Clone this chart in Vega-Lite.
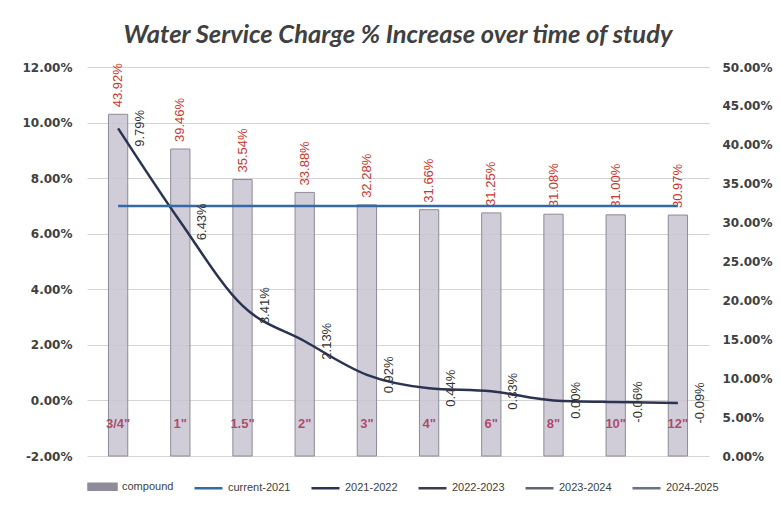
{
  "$schema": "https://vega.github.io/schema/vega-lite/v6.json",
  "width": 622,
  "height": 389,
  "autosize": {"type": "none"},
  "padding": {"left": 87, "top": 67, "right": 72, "bottom": 52},
  "background": "white",
  "title": {
    "text": "Water Service Charge % Increase over time of study",
    "font": "Lato",
    "fontSize": 25.5,
    "fontStyle": "italic",
    "fontWeight": "bold",
    "color": "#404040",
    "offset": 13,
    "anchor": "middle"
  },
  "datasets": {
    "bars": [
      {"cat": "3/4\"", "compound": 0.4392},
      {"cat": "1\"", "compound": 0.3946},
      {"cat": "1.5\"", "compound": 0.3554},
      {"cat": "2\"", "compound": 0.3388},
      {"cat": "3\"", "compound": 0.3228},
      {"cat": "4\"", "compound": 0.3166},
      {"cat": "6\"", "compound": 0.3125},
      {"cat": "8\"", "compound": 0.3108},
      {"cat": "10\"", "compound": 0.3100},
      {"cat": "12\"", "compound": 0.3097}
    ],
    "lines": [
      {"cat": "3/4\"", "series": "2021-2022", "value": 0.0979},
      {"cat": "1\"", "series": "2021-2022", "value": 0.0643},
      {"cat": "1.5\"", "series": "2021-2022", "value": 0.0341},
      {"cat": "2\"", "series": "2021-2022", "value": 0.0213},
      {"cat": "3\"", "series": "2021-2022", "value": 0.0092},
      {"cat": "4\"", "series": "2021-2022", "value": 0.0044},
      {"cat": "6\"", "series": "2021-2022", "value": 0.0033},
      {"cat": "8\"", "series": "2021-2022", "value": 0.0},
      {"cat": "10\"", "series": "2021-2022", "value": -0.0006},
      {"cat": "12\"", "series": "2021-2022", "value": -0.0009},
      {"cat": "3/4\"", "series": "current-2021", "value": 0.07},
      {"cat": "1\"", "series": "current-2021", "value": 0.07},
      {"cat": "1.5\"", "series": "current-2021", "value": 0.07},
      {"cat": "2\"", "series": "current-2021", "value": 0.07},
      {"cat": "3\"", "series": "current-2021", "value": 0.07},
      {"cat": "4\"", "series": "current-2021", "value": 0.07},
      {"cat": "6\"", "series": "current-2021", "value": 0.07},
      {"cat": "8\"", "series": "current-2021", "value": 0.07},
      {"cat": "10\"", "series": "current-2021", "value": 0.07},
      {"cat": "12\"", "series": "current-2021", "value": 0.07}
    ]
  },
  "encoding": {
    "x": {
      "field": "cat",
      "type": "nominal",
      "sort": null,
      "scale": {"paddingInner": 0.69, "paddingOuter": 0.345},
      "axis": {
        "title": null,
        "labelAngle": 0,
        "ticks": false,
        "domain": false,
        "labelPadding": -39,
        "labelColor": "#a83256",
        "labelFont": "Liberation Sans",
        "labelFontWeight": "bold",
        "labelFontSize": 13,
        "labelOpacity": 0.85,
        "zindex": 1
      }
    }
  },
  "layer": [
    {
      "data": {"name": "bars"},
      "encoding": {
        "y": {
          "field": "compound",
          "type": "quantitative",
          "scale": {"domain": [0, 0.5]},
          "axis": {
            "orient": "right",
            "title": null,
            "values": [0, 0.05, 0.1, 0.15, 0.2, 0.25, 0.3, 0.35, 0.4, 0.45, 0.5],
            "format": ".2%",
            "grid": false,
            "ticks": false,
            "domain": false,
            "labelPadding": 13,
            "labelFont": "DejaVu Sans",
            "labelFontWeight": "bold",
            "labelFontSize": 12,
            "labelColor": "#404040"
          }
        }
      },
      "layer": [
        {"mark": {"type": "bar", "fill": "#c8c4d2", "fillOpacity": 0.85, "stroke": "#8d8b98", "strokeWidth": 1}},
        {
          "mark": {"type": "text", "angle": 270, "align": "left", "baseline": "middle", "dx": 7, "font": "Liberation Sans", "fontSize": 13, "color": "#c8372d"},
          "encoding": {"text": {"field": "compound", "type": "quantitative", "format": ".2%"}}
        }
      ]
    },
    {
      "data": {"name": "lines"},
      "encoding": {
        "y": {
          "field": "value",
          "type": "quantitative",
          "scale": {"domain": [-0.02, 0.12]},
          "axis": {
            "orient": "left",
            "title": null,
            "values": [-0.02, 0, 0.02, 0.04, 0.06, 0.08, 0.1, 0.12],
            "format": ".2%",
            "grid": true,
            "gridColor": "#d4d4d4",
            "ticks": false,
            "domain": false,
            "labelPadding": 15,
            "labelFont": "DejaVu Sans",
            "labelFontWeight": "bold",
            "labelFontSize": 12,
            "labelColor": "#404040"
          }
        }
      },
      "layer": [
        {
          "mark": {"type": "line", "interpolate": "monotone", "strokeWidth": 2.5},
          "encoding": {
            "color": {
              "field": "series",
              "type": "nominal",
              "scale": {
                "domain": ["compound", "current-2021", "2021-2022", "2022-2023", "2023-2024", "2024-2025"],
                "range": ["#8f8b99", "#3468a6", "#2a3452", "#3d3d4a", "#5e6470", "#6a7184"]
              },
              "legend": {
                "title": null,
                "orient": "bottom",
                "direction": "horizontal",
                "symbolType": "stroke",
                "symbolSize": 784,
                "symbolStrokeWidth": 2.5,
                "labelFont": "Liberation Sans",
                "labelFontSize": 11,
                "labelColor": "#404040",
                "columnPadding": 15,
                "offset": 15,
                "encode": {
                  "symbols": {
                    "update": {
                      "shape": {"signal": "datum.value === 'compound' ? 'M-1,-0.22L1,-0.22L1,0.22L-1,0.22Z' : 'stroke'"},
                      "fill": {"signal": "datum.value === 'compound' ? '#8f8b99' : 'transparent'"}
                    }
                  }
                }
              }
            }
          }
        },
        {
          "transform": [{"filter": "datum.series === '2021-2022'"}],
          "mark": {"type": "text", "angle": 270, "align": "center", "baseline": "middle", "dy": 22, "font": "Liberation Sans", "fontSize": 13, "color": "#333333"},
          "encoding": {"text": {"field": "value", "type": "quantitative", "format": ".2%"}}
        }
      ]
    }
  ],
  "resolve": {"scale": {"y": "independent"}},
  "config": {
    "view": {"stroke": null},
    "locale": {"number": {"decimal": ".", "thousands": ",", "grouping": [3], "currency": ["$", ""], "minus": "-"}}
  }
}
